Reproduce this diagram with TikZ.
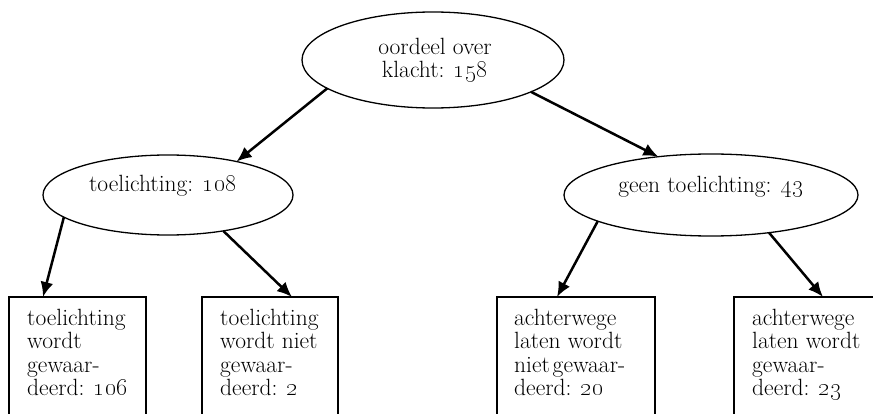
\documentclass[tikz,border=0pt]{standalone}
\usetikzlibrary{shapes.geometric,arrows.meta,calc}
\newcommand{\osn}[1]{\oldstylenums{#1}}
\tikzset{
  ell/.style={draw, ellipse, line width=1.3pt, inner sep=0pt, outer sep=0pt},
  boxst/.style={draw, rectangle, line width=1.5pt, inner sep=0pt, outer sep=0pt, anchor=north west, minimum height=150},
  lbl/.style={inner sep=0pt, font=\fontsize{23.5}{23.3}\selectfont},
  boxtxt/.style={lbl, align=left, anchor=north west},
  arr/.style={line width=2.5pt, -{Latex[length=15pt,width=13pt]}}
}
\begin{document}
\begin{tikzpicture}[x=1pt,y=-1pt]
\useasboundingbox (0,0) rectangle (873,414);
\clip (0,0) rectangle (873,414);
% ellipses
\node[ell, minimum width=262, minimum height=96] (top) at (433,60) {};
\node[ell, minimum width=250, minimum height=80] (l) at (168,195) {};
\node[ell, minimum width=294, minimum height=82] (r) at (711,195) {};
\node[lbl, align=center, anchor=north] (ttop) at (435,38) {oordeel over\\klacht: \osn{158}};
\node[lbl, anchor=base] (tl) at (163,192) {toelichting: \osn{108}};
\node[lbl, anchor=base] (tr) at (711,193) {geen toelichting: \osn{43}};
% boxes
\node[boxst, minimum width=137] (b1) at (9,297) {};
\node[boxst, minimum width=136] (b2) at (202,297) {};
\node[boxst, minimum width=158] (b3) at (497,297) {};
\node[boxst, minimum width=150] (b4) at (734,297) {};
\node[boxtxt] (t1) at ($(b1.north west)+(18,12)$) {toelichting\\wordt\\gewaar-\\deerd: \osn{106}};
\node[boxtxt] (t2) at ($(b2.north west)+(18,12)$) {toelichting\\wordt niet\\gewaar-\\deerd: \osn{2}};
\node[boxtxt] (t3) at ($(b3.north west)+(17,12)$) {achterwege\\laten wordt\\niet\hspace{0.12em}gewaar-\\deerd: \osn{20}};
\node[boxtxt] (t4) at ($(b4.north west)+(18,12)$) {achterwege\\laten wordt\\gewaar-\\deerd: \osn{23}};
% arrows
\draw[arr] (top.195.3) -- (l.26.6);
\draw[arr] (top.-18.3) -- (r.144.4);
\draw[arr] (l.192.8) -- ($(b1.north west)+(34,0)$);
\draw[arr] (l.-33.7) -- ($(b2.north west)+(90,0)$);
\draw[arr] (r.193.4) -- ($(b3.north west)+(60,0)$);
\draw[arr] (r.-33.7) -- ($(b4.north west)+(89,0)$);
\end{tikzpicture}
\end{document}
